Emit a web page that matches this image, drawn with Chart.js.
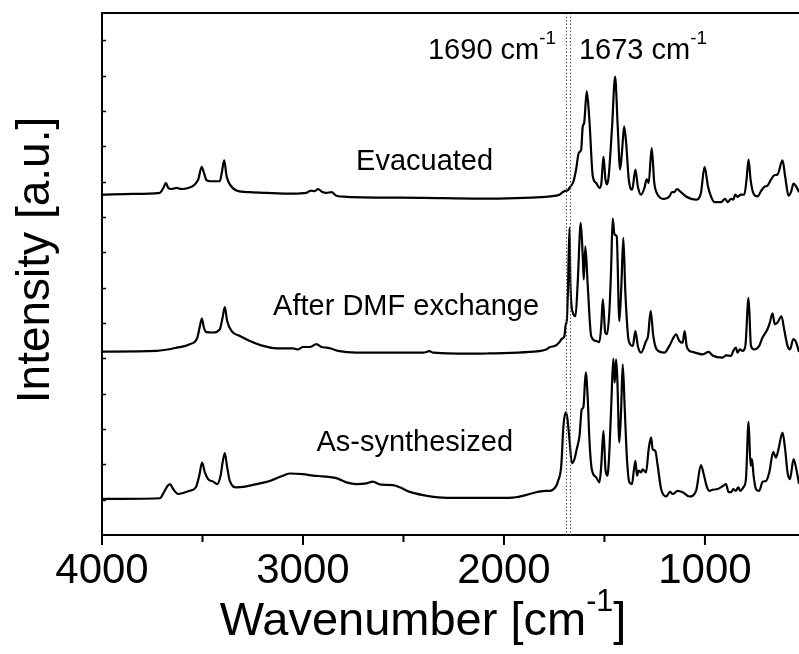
<!DOCTYPE html>
<html>
<head>
<meta charset="utf-8">
<script src="https://cdn.jsdelivr.net/npm/chart.js@4/dist/chart.umd.min.js"></script>
<style>
  html, body { margin: 0; padding: 0; background: #fff; }
  canvas { display: block; }
</style>
</head>
<body>
<canvas id="spectra" width="799" height="654"></canvas>
<script>
// IR spectra, stacked offsets in a.u.
const evacWn = [4000, 3846, 3712, 3695, 3682, 3670, 3654, 3629, 3604, 3571, 3538, 3521, 3504, 3493, 3480, 3463, 3414, 3404, 3392, 3380,
    3364, 3331, 3264, 3181, 3049, 2983, 2963, 2941, 2925, 2908, 2883, 2858, 2834, 2784, 2400, 2121, 1790, 1773, 1724, 1699,
    1683, 1674, 1654, 1641, 1628, 1616, 1608, 1601, 1588, 1575, 1558, 1541, 1525, 1516, 1505, 1495, 1487, 1479, 1462, 1447,
    1434, 1422, 1412, 1402, 1392, 1379, 1362, 1346, 1334, 1318, 1301, 1290, 1280, 1265, 1252, 1235, 1202, 1177, 1164, 1152,
    1139, 1119, 1094, 1044, 1020, 1002, 985, 970, 953, 920, 900, 887, 870, 859, 849, 838, 821, 804, 793, 783,
    773, 760, 738, 721, 705, 688, 671, 655, 639, 614, 601, 584, 572, 559, 547, 532];
const evacInt = [9.63, 9.65, 9.68, 9.82, 9.96, 9.82, 9.79, 9.82, 9.79, 9.82, 9.92, 10.06, 10.42, 10.25, 10.04, 10.01, 10.01, 10.25, 10.60, 10.15,
    9.92, 9.75, 9.70, 9.68, 9.66, 9.68, 9.74, 9.73, 9.79, 9.72, 9.68, 9.70, 9.60, 9.57, 9.54, 9.52, 9.57, 9.58, 9.63, 9.73,
    9.75, 9.82, 10.01, 10.34, 10.81, 10.90, 11.56, 11.66, 12.55, 11.75, 10.15, 9.96, 9.82, 9.92, 10.71, 10.06, 9.92, 10.15, 11.56, 12.97,
    11.56, 10.34, 10.90, 11.56, 11.09, 10.06, 9.77, 10.34, 9.87, 9.63, 9.82, 10.06, 9.96, 10.95, 9.96, 9.63, 9.51, 9.58, 9.70, 9.70,
    9.79, 9.70, 9.58, 9.49, 9.68, 10.42, 9.87, 9.58, 9.42, 9.42, 9.51, 9.42, 9.51, 9.49, 9.63, 9.57, 9.63, 9.63, 10.06, 10.62,
    10.06, 9.68, 9.58, 9.73, 9.85, 9.89, 10.06, 10.18, 10.20, 10.60, 10.15, 9.60, 9.70, 9.94, 9.87, 9.70];

const dmfWn = [4000, 3728, 3629, 3563, 3526, 3513, 3503, 3493, 3480, 3447, 3414, 3400, 3389, 3377, 3355, 3314, 3264, 3198, 3132, 3049,
    3024, 3000, 2966, 2933, 2908, 2883, 2858, 2826, 2734, 2403, 2370, 2353, 2121, 2072, 1873, 1790, 1773, 1740, 1724, 1710,
    1699, 1694, 1687, 1682, 1674, 1669, 1657, 1644, 1633, 1618, 1608, 1603, 1595, 1583, 1566, 1541, 1525, 1516, 1508, 1496,
    1487, 1475, 1467, 1459, 1450, 1439, 1426, 1416, 1406, 1396, 1379, 1359, 1346, 1334, 1318, 1293, 1283, 1270, 1257, 1240,
    1202, 1177, 1157, 1144, 1127, 1111, 1101, 1091, 1077, 1061, 1011, 982, 962, 912, 895, 870, 859, 846, 838, 826,
    813, 799, 783, 771, 755, 730, 714, 689, 677, 664, 652, 639, 619, 606, 589, 577, 560, 547, 532];
const dmfInt = [5.19, 5.21, 5.30, 5.40, 5.58, 5.91, 6.12, 5.87, 5.74, 5.73, 5.82, 6.15, 6.45, 6.05, 5.77, 5.63, 5.49, 5.35, 5.28, 5.28,
    5.25, 5.32, 5.32, 5.40, 5.32, 5.30, 5.27, 5.21, 5.16, 5.16, 5.20, 5.16, 5.13, 5.14, 5.18, 5.25, 5.31, 5.37, 5.46, 5.56,
    5.63, 5.91, 6.10, 6.86, 8.69, 7.04, 6.29, 6.19, 7.14, 8.83, 7.89, 7.23, 8.17, 7.04, 5.63, 5.49, 5.46, 5.91, 6.67, 5.73,
    5.68, 6.38, 7.51, 8.95, 8.50, 8.45, 6.05, 7.04, 8.41, 6.86, 5.49, 5.35, 5.77, 5.35, 5.16, 5.49, 5.63, 6.34, 5.63, 5.25,
    5.16, 5.35, 5.58, 5.68, 5.49, 5.44, 5.77, 5.35, 5.21, 5.18, 5.11, 5.18, 5.08, 5.02, 5.08, 5.07, 5.21, 5.30, 5.16, 5.25,
    5.21, 5.35, 6.71, 5.35, 5.25, 5.35, 5.58, 5.82, 6.01, 6.27, 5.96, 6.01, 6.19, 5.82, 5.35, 5.25, 5.54, 5.46, 5.18];

const asWn = [4000, 3712, 3692, 3675, 3662, 3646, 3621, 3596, 3563, 3533, 3516, 3502, 3488, 3472, 3447, 3427, 3410, 3400, 3389, 3377,
    3364, 3331, 3298, 3231, 3165, 3107, 3066, 3000, 2950, 2900, 2834, 2784, 2734, 2684, 2652, 2618, 2585, 2552, 2519, 2469,
    2403, 2304, 2187, 2072, 1956, 1790, 1773, 1740, 1732, 1715, 1704, 1692, 1684, 1674, 1662, 1649, 1638, 1624, 1613, 1605,
    1593, 1583, 1575, 1563, 1541, 1525, 1516, 1505, 1495, 1485, 1475, 1465, 1456, 1449, 1442, 1436, 1426, 1417, 1409, 1399,
    1388, 1376, 1363, 1355, 1346, 1338, 1330, 1318, 1310, 1293, 1280, 1268, 1260, 1247, 1235, 1218, 1193, 1174, 1160, 1136,
    1111, 1078, 1044, 1020, 1006, 992, 978, 962, 937, 912, 895, 883, 870, 859, 846, 834, 824, 809, 796, 783,
    773, 766, 758, 746, 730, 713, 696, 680, 660, 647, 634, 614, 601, 589, 577, 559, 547, 532];
const asInt = [1.02, 1.04, 1.21, 1.38, 1.44, 1.30, 1.16, 1.19, 1.25, 1.35, 1.68, 2.05, 1.77, 1.58, 1.51, 1.44, 1.68, 2.05, 2.32, 1.91,
    1.53, 1.35, 1.36, 1.44, 1.53, 1.66, 1.74, 1.72, 1.68, 1.66, 1.61, 1.49, 1.44, 1.46, 1.51, 1.43, 1.42, 1.41, 1.35, 1.22,
    1.13, 1.06, 1.05, 1.05, 1.06, 1.25, 1.25, 1.39, 1.51, 1.96, 3.09, 3.48, 3.28, 2.70, 2.03, 2.15, 2.43, 2.81, 3.56, 3.61,
    4.60, 3.84, 2.71, 1.86, 1.63, 1.49, 1.96, 2.95, 1.86, 1.68, 2.43, 3.84, 4.99, 4.31, 4.97, 4.41, 2.62, 3.56, 4.83, 3.56,
    2.15, 1.49, 1.44, 1.77, 2.10, 1.68, 1.82, 1.77, 1.86, 1.77, 2.43, 2.76, 2.43, 2.38, 1.96, 1.30, 1.09, 1.22, 1.16, 1.25,
    1.21, 1.09, 1.25, 1.98, 1.72, 1.39, 1.25, 1.28, 1.30, 1.38, 1.44, 1.22, 1.21, 1.30, 1.25, 1.35, 1.25, 1.35, 1.58, 3.20,
    1.96, 2.15, 1.68, 1.30, 1.25, 1.51, 1.53, 1.77, 2.35, 2.19, 2.43, 2.90, 2.43, 1.77, 1.58, 2.15, 1.91, 1.45];

const seriesNames = ['Evacuated', 'After DMF exchange', 'As-synthesized'];
const xTickValues = [4000, 3500, 3000, 2500, 2000, 1500, 1000];
const markerWn = [1690, 1673];

const FONT = '"Liberation Sans", Arial, sans-serif';

function toPoints(wn, vals) {
    return wn.map((w, i) => ({ x: w, y: vals[i] }));
}

// draws text runs, some of them raised as superscripts
function drawRich(ctx, parts, x, y, size, align) {
    const supSize = size * 0.65;
    let total = 0;
    parts.forEach(p => {
        ctx.font = (p.sup ? supSize : size) + 'px ' + FONT;
        p.w = ctx.measureText(p.t).width;
        total += p.w;
    });
    let cx = align === 'center' ? x - total / 2 : (align === 'right' ? x - total : x);
    ctx.textAlign = 'left';
    ctx.textBaseline = 'alphabetic';
    parts.forEach(p => {
        ctx.font = (p.sup ? supSize : size) + 'px ' + FONT;
        ctx.fillText(p.t, cx, p.sup ? y - size * 0.52 : y);
        cx += p.w;
    });
}

const decorPlugin = {
    id: 'decor',
    afterDatasetsDraw(chart) {
        const { ctx, chartArea: area, scales: { x } } = chart;
        ctx.save();
        // dotted marker lines
        ctx.strokeStyle = '#555';
        ctx.lineWidth = 1;
        ctx.setLineDash([1.5, 2]);
        markerWn.forEach(w => {
            const px = Math.round(x.getPixelForValue(w)) + 0.5;
            ctx.beginPath();
            ctx.moveTo(px, area.top);
            ctx.lineTo(px, area.bottom);
            ctx.stroke();
        });
        ctx.restore();
    },
    afterDraw(chart) {
        const { ctx, chartArea: area, scales: { x, y } } = chart;
        ctx.save();
        ctx.strokeStyle = '#000';
        ctx.fillStyle = '#000';

        // top frame line
        ctx.lineWidth = 2;
        ctx.beginPath();
        ctx.moveTo(area.left - 1, area.top);
        ctx.lineTo(area.right, area.top);
        ctx.stroke();

        // x ticks, outward, minor ones shorter
        x.ticks.forEach(t => {
            const px = x.getPixelForValue(t.value);
            const len = t.value % 1000 === 0 ? 10 : 7;
            ctx.beginPath();
            ctx.moveTo(px, area.bottom);
            ctx.lineTo(px, area.bottom + len);
            ctx.stroke();
        });

        // y ticks, inward
        ctx.lineWidth = 1.5;
        y.ticks.forEach(t => {
            if (t.value <= 0 || t.value % 1 !== 0) return;
            const py = Math.round(y.getPixelForValue(t.value)) + 0.5;
            ctx.beginPath();
            ctx.moveTo(area.left, py);
            ctx.lineTo(area.left + 4, py);
            ctx.stroke();
        });

        // series labels
        ctx.font = '29px ' + FONT;
        ctx.textAlign = 'center';
        ctx.textBaseline = 'alphabetic';
        ctx.fillText(seriesNames[0], x.getPixelForValue(2395), y.getPixelForValue(10.34));
        ctx.fillText(seriesNames[1], x.getPixelForValue(2487), y.getPixelForValue(6.22));
        ctx.fillText(seriesNames[2], x.getPixelForValue(2444), y.getPixelForValue(2.37));

        // marker annotations
        drawRich(ctx, [{ t: markerWn[0] + ' cm' }, { t: '-1', sup: true }],
            x.getPixelForValue(2378), y.getPixelForValue(13.47), 29, 'left');
        drawRich(ctx, [{ t: markerWn[1] + ' cm' }, { t: '-1', sup: true }],
            x.getPixelForValue(1627), y.getPixelForValue(13.47), 29, 'left');

        // axis titles
        drawRich(ctx, [{ t: 'Wavenumber [cm' }, { t: '-1', sup: true }, { t: ']' }],
            423, 635, 47, 'center');

        ctx.save();
        ctx.translate(49, (area.top + area.bottom) / 2 - 14);
        ctx.rotate(-Math.PI / 2);
        ctx.font = '46px ' + FONT;
        ctx.textAlign = 'center';
        ctx.textBaseline = 'alphabetic';
        ctx.fillText('Intensity [a.u.]', 0, 0);
        ctx.restore();

        ctx.restore();
    }
};

const lineStyle = {
    borderColor: '#000',
    borderWidth: 2.2,
    pointRadius: 0,
    showLine: true,
    cubicInterpolationMode: 'monotone',
    borderJoinStyle: 'round',
    fill: false
};

new Chart(document.getElementById('spectra'), {
    type: 'scatter',
    data: {
        datasets: [
            { label: seriesNames[0], data: toPoints(evacWn, evacInt), ...lineStyle },
            { label: seriesNames[1], data: toPoints(dmfWn, dmfInt), ...lineStyle },
            { label: seriesNames[2], data: toPoints(asWn, asInt), ...lineStyle }
        ]
    },
    options: {
        responsive: false,
        animation: false,
        devicePixelRatio: 1,
        events: [],
        layout: { padding: { left: 0, top: 13, right: 0, bottom: 0 } },
        plugins: { legend: { display: false }, tooltip: { enabled: false } },
        scales: {
            x: {
                type: 'linear',
                reverse: true,
                min: 532,
                max: 4000,
                afterBuildTicks: scale => { scale.ticks = xTickValues.map(v => ({ value: v })); },
                afterFit: scale => { scale.height = 119; },
                grid: { display: false, drawTicks: false },
                border: { display: true, color: '#000', width: 2 },
                ticks: {
                    color: '#000',
                    font: { family: FONT, size: 42 },
                    padding: 11,
                    maxRotation: 0,
                    autoSkip: false,
                    callback: v => (v % 1000 === 0 ? String(v) : '')
                }
            },
            y: {
                type: 'linear',
                min: 0,
                max: 14.77,
                afterFit: scale => { scale.width = 102; },
                grid: { display: false, drawTicks: false },
                border: { display: true, color: '#000', width: 2 },
                ticks: { display: false, stepSize: 1 }
            }
        }
    },
    plugins: [decorPlugin]
});
</script>
</body>
</html>
